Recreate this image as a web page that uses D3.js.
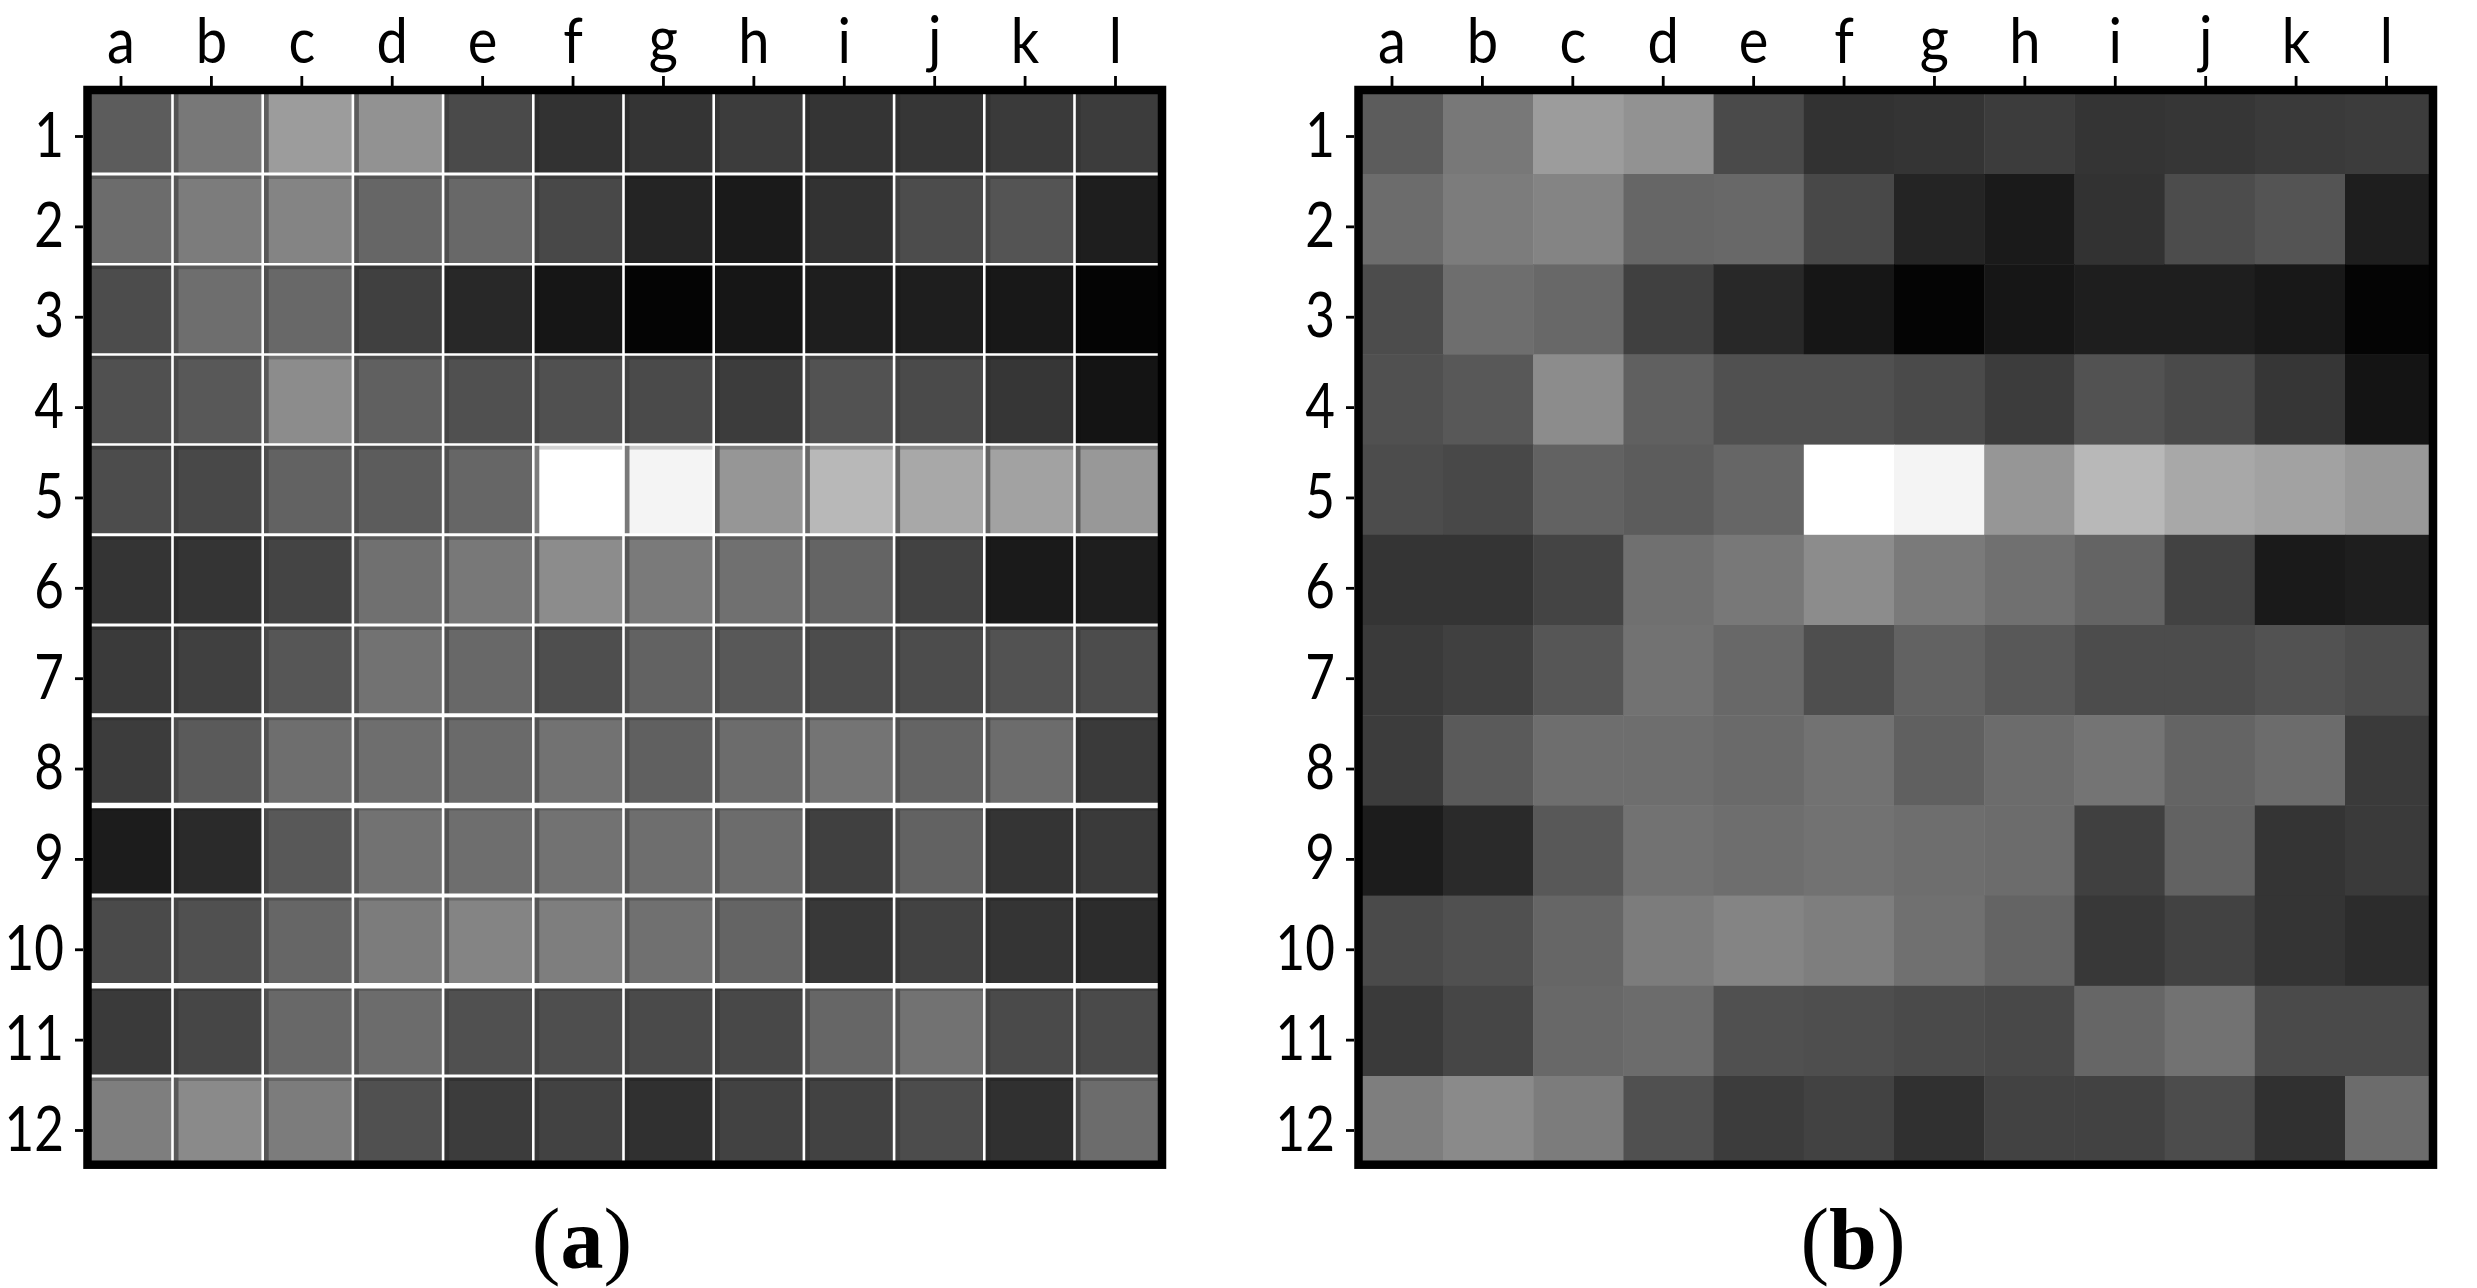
<!DOCTYPE html>
<html><head><meta charset="utf-8"><script src="https://cdn.jsdelivr.net/npm/d3@7"></script>
<style>html,body{margin:0;background:#fff}svg{display:block}</style></head><body><div id="c"></div>
<script>
const cols=["a","b","c","d","e","f","g","h","i","j","k","l"];
const rows=["1","2","3","4","5","6","7","8","9","10","11","12"];
const valuesA=[
[0x5c,0x78,0x9c,0x92,0x4a,0x32,0x34,0x3c,0x34,0x36,0x3a,0x3c],
[0x6c,0x7c,0x84,0x66,0x68,0x48,0x24,0x1a,0x32,0x4c,0x54,0x1e],
[0x4c,0x6e,0x68,0x40,0x28,0x16,0x04,0x16,0x1e,0x1e,0x18,0x04],
[0x50,0x58,0x8c,0x60,0x50,0x50,0x4a,0x3c,0x52,0x4a,0x36,0x14],
[0x4c,0x48,0x62,0x5c,0x66,0xff,0xf4,0x96,0xb8,0xa8,0xa2,0x98],
[0x34,0x34,0x44,0x70,0x78,0x8c,0x7a,0x70,0x64,0x42,0x1a,0x1e],
[0x3a,0x40,0x56,0x72,0x68,0x4e,0x62,0x58,0x4c,0x4c,0x52,0x4c],
[0x3c,0x5a,0x6e,0x6e,0x6a,0x72,0x60,0x6c,0x74,0x64,0x6c,0x3a],
[0x1c,0x2a,0x58,0x72,0x6e,0x72,0x6e,0x6c,0x40,0x62,0x34,0x3a],
[0x4a,0x50,0x66,0x7c,0x84,0x7e,0x70,0x64,0x38,0x42,0x34,0x2c],
[0x3a,0x46,0x68,0x6c,0x50,0x4e,0x4a,0x48,0x66,0x72,0x4a,0x4a],
[0x7e,0x8a,0x7c,0x50,0x3c,0x42,0x30,0x42,0x42,0x4c,0x30,0x6c]];
const valuesB=valuesA;
const W=2477,H=1288;
const svg=d3.select("#c").append("svg").attr("width",W).attr("height",H);
const FONT="Lato";
const rowLineWidths=[3,2.5,2.5,2.5,3,3,4,5.5,4,5.5,3];
const labelRaise={g:2,j:2};
function panel(dx,values,grid,caption){
  const g=svg.append("g").attr("transform",`translate(${dx},0)`);
  const step=90.2;
  const x0=172-step,y0=174-step;
  const x=d3.scaleBand().domain(cols).range([x0,x0+12*step]);
  const y=d3.scaleBand().domain(rows).range([y0,y0+12*step]);
  const cp="cp"+dx;
  g.append("clipPath").attr("id",cp).append("rect").attr("x",88).attr("y",90).attr("width",1074).attr("height",1075);
  const plot=g.append("g").attr("clip-path",`url(#${cp})`);
  const grey=v=>d3.rgb(v,v,v);
  rows.forEach((r,i)=>{
    plot.selectAll(null).data(values[i]).join("rect")
      .attr("x",(d,j)=>x(cols[j])).attr("y",y(r))
      .attr("width",x.bandwidth()+.5).attr("height",y.bandwidth()+.5)
      .attr("fill",d=>grey(d));
    if(grid){
      if(i>0) plot.selectAll(null).data(values[i]).join("rect")
        .attr("x",(d,j)=>x(cols[j])).attr("y",y(r)).attr("width",x.bandwidth()).attr("height",5)
        .attr("fill","#000").attr("opacity",.18);
      plot.selectAll(null).data(values[i].slice(1)).join("rect")
        .attr("x",(d,j)=>x(cols[j+1])).attr("y",y(r)).attr("width",6.5).attr("height",y.bandwidth())
        .attr("fill",d=>grey(Math.round(Math.min(d*.85,d*.3+48))));
    }
  });
  if(grid){
    plot.selectAll(null).data(cols.slice(1)).join("line").attr("x1",d=>x(d)+.5).attr("x2",d=>x(d)+.5).attr("y1",90).attr("y2",1165).attr("stroke","#fff").attr("stroke-width",2.6);
    plot.selectAll(null).data(rows.slice(1)).join("line").attr("y1",d=>y(d)).attr("y2",d=>y(d)).attr("x1",88).attr("x2",1162).attr("stroke","#fff").attr("stroke-width",(d,i)=>rowLineWidths[i]);
  }
  g.append("rect").attr("x",87.5).attr("y",90).attr("width",1074.5).attr("height",1074.7).attr("fill","none").attr("stroke","#000").attr("stroke-width",8.5);
  const xt=d3.scalePoint().domain(cols).range([120.5,1115]);
  const yt=d3.scalePoint().domain(rows).range([136,1130]);
  const top=g.append("g").attr("transform","translate(0,86)").call(d3.axisTop(xt).tickSize(10).tickPadding(0));
  const left=g.append("g").attr("transform","translate(83,0)").call(d3.axisLeft(yt).tickSize(8).tickPadding(0));
  [top,left].forEach(a=>{a.select(".domain").remove();a.selectAll("line").attr("stroke","#000").attr("stroke-width",2.8);a.attr("font-family",null);});
  const sx=.92, sy=.84;
  top.selectAll("text").attr("y",d=>-23-(labelRaise[d]||0)).attr("dy",0).attr("x",0).attr("text-anchor","middle")
    .attr("transform",`scale(${sx},1)`).style("font-family",FONT).style("font-size","61px").attr("fill","#000");
  left.selectAll("text").attr("x",-19/sy).attr("dy",0).attr("y",20).attr("text-anchor","end").attr("transform",`scale(${sy},1)`).style("font-family",FONT).style("font-size","61px").attr("fill","#000");
  const t=g.append("text").attr("x",582).attr("y",1268).attr("text-anchor","middle").style("font-family","Liberation Serif").style("font-size","86px").attr("fill","#000");
  t.append("tspan").text("(");t.append("tspan").style("font-weight","bold").text(caption);t.append("tspan").text(")");
}
panel(0,valuesA,true,"a");
panel(1271,valuesB,false,"b");
</script></body></html>
